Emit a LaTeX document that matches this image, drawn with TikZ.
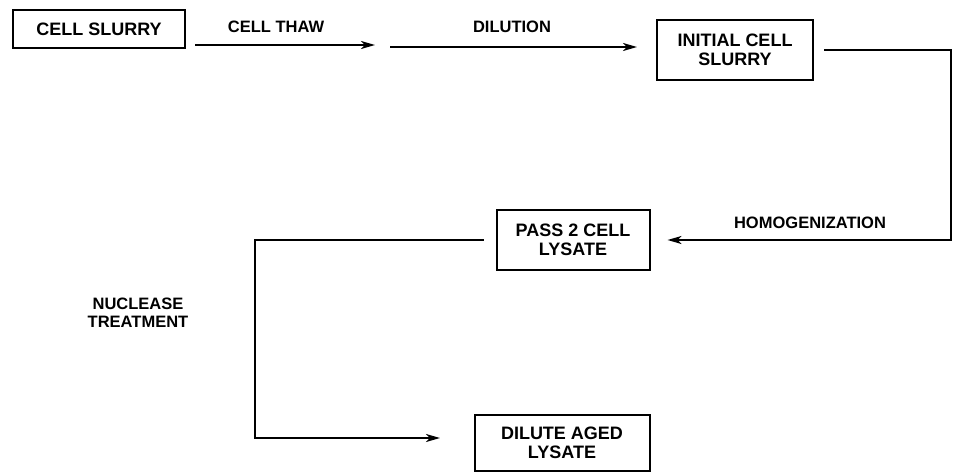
\documentclass[tikz,border=0pt]{standalone}
\usepackage{fontspec}
\setmainfont{Liberation Sans}
\usetikzlibrary{positioning,arrows.meta}

\begin{document}
\begin{tikzpicture}[x=1pt,y=-1pt,
  procbox/.style={draw, line width=2pt, align=center, inner sep=0pt, font=\bfseries\fontsize{18}{19.5}\selectfont},
  flowline/.style={line width=2pt, -{Stealth[length=14pt,width=8pt,inset=4pt]}},
  steplabel/.style={align=center, font=\bfseries\fontsize{16.5}{18}\selectfont}]
\useasboundingbox (0,0) rectangle (953,476);

% process boxes
\node[procbox, minimum width=172pt, minimum height=38pt] (slurry) at (99,29) {CELL SLURRY};
\node[procbox, minimum width=156pt, minimum height=60pt] (initial) at (735,50) {INITIAL CELL\\SLURRY};
\node[procbox, minimum width=153pt, minimum height=60pt] (pass2) at (573,240) {PASS 2 CELL\\LYSATE};
\node[procbox, minimum width=175pt, minimum height=56pt] (dilute) at (562,443) {DILUTE AGED\\LYSATE};

% step labels
\node[steplabel] (thawlbl) at (276,27) {CELL THAW};
\node[steplabel] (dillbl) at (512,27) {DILUTION};
\node[steplabel] (homlbl) at (810,223) {HOMOGENIZATION};
\node[steplabel] (nuclbl) at (138,313) {NUCLEASE\\TREATMENT};

% free ends and turns
\coordinate (thawA) at (195,45);
\coordinate (thawB) at (375,45);
\coordinate (dilA) at (390,47);
\coordinate (dilB) at (637,47);
\coordinate (homturn) at (951,50);
\coordinate (nucturn) at (255,438);
\coordinate (nucend) at (440,438);

% connectors
\draw[flowline] (thawA) -- (thawB);
\draw[flowline] (dilA) -- (dilB);
\draw[flowline, shorten <=10pt, shorten >=17pt] (initial.east) -- (homturn) |- (pass2.east);
\draw[flowline, shorten <=12pt] (pass2.west) -| (nucturn) -- (nucend);
\end{tikzpicture}
\end{document}
